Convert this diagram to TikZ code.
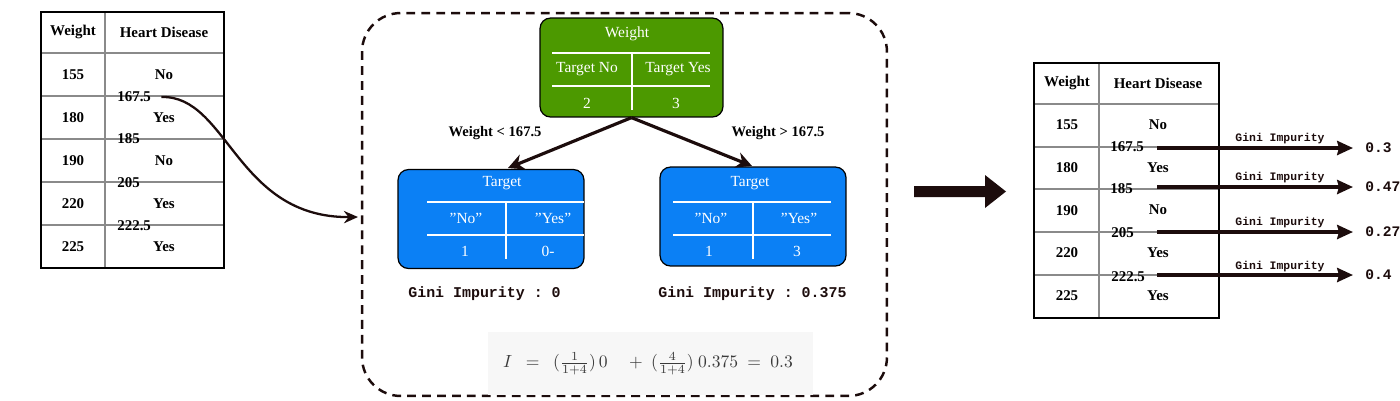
\documentclass[tikz,border=0pt]{standalone}
\usepackage{amsmath}
\usepackage{fontspec}
\setmainfont{Liberation Serif}[Ligatures=ResetAll]
\setmonofont{Liberation Mono}
\usetikzlibrary{arrows.meta}
\definecolor{ink}{HTML}{1C0C0C}
\definecolor{gnode}{HTML}{4C9900}
\definecolor{bnode}{HTML}{0B80F5}
\definecolor{gridc}{HTML}{8A8A8A}
\definecolor{fbox}{HTML}{F7F7F7}
\definecolor{ftext}{HTML}{3A3A3A}
\tikzset{
  cell/.style={font=\fontsize{8.5}{10}\selectfont\bfseries, inner sep=0pt, text=black},
  thr/.style={font=\fontsize{8.5}{10}\selectfont\bfseries, inner sep=0pt, anchor=west, text=black},
  gridline/.style={draw=gridc, line width=0.6pt},
  border/.style={draw=black, line width=0.8pt},
  greenbox/.style={draw=black, line width=0.7pt, fill=gnode, rounded corners=6pt, minimum width=3.66cm, minimum height=1.98cm, inner sep=0pt},
  bluebox/.style={draw=black, line width=0.7pt, fill=bnode, rounded corners=6pt, minimum width=3.72cm, minimum height=1.98cm, inner sep=0pt},
  wtxt/.style={font=\fontsize{8.8}{10}\selectfont, text=white, inner sep=0pt},
  wline/.style={draw=white, line width=1.2pt},
  treearrow/.style={draw=ink, line width=1.8pt, -{Stealth[length=9pt,width=9pt]}},
  curvearrow/.style={draw=ink, line width=1.3pt, -{Stealth[length=8pt,width=7pt]}},
  rarrow/.style={draw=ink, line width=1.9pt, -{Stealth[length=9pt,width=8pt,inset=1pt]}},
  brlabel/.style={font=\fontsize{8.3}{10}\selectfont\bfseries, inner sep=0pt, text=black},
  gini/.style={font=\fontsize{8.5}{11}\ttfamily\bfseries, text=ink, inner sep=0pt, anchor=west},
  ginismall/.style={font=\fontsize{6.5}{8}\ttfamily\bfseries, text=ink, inner sep=0pt},
  ginival/.style={font=\fontsize{8.3}{10}\ttfamily\bfseries, text=ink, inner sep=0pt, anchor=west},
  frame/.style={draw=ink, line width=1.4pt, dash pattern=on 5pt off 3.5pt, rounded corners=22pt, minimum width=10.5cm, minimum height=7.66cm, inner sep=0pt},
}
\begin{document}
\begin{tikzpicture}[x=0.02cm,y=-0.02cm]
\useasboundingbox (0,0) rectangle (1400,400);

% ---------------- left table ----------------
\draw[gridline] (41,53) -- (224,53);
\foreach \yy in {96,139,182,225} \draw[gridline] (41,\yy) -- (224,\yy);
\draw[gridline] (105,12) -- (105,268);
\draw[border] (41,12) rectangle (224,268);
\node[cell] (lhw) at (73,32) {Weight};
\node[cell] (lhd) at (164,32) {Heart Disease};
\foreach \w/\h [count=\i] in {155/No,180/Yes,190/No,220/Yes,225/Yes}{
  \node[cell] (lw\i) at (73,{31.5+43*\i}) {\w};
  \node[cell] (lh\i) at (164,{31.5+43*\i}) {\h};
}
\node[thr] (lt1) at (117,97) {167.5};
\node[thr] (lt2) at (117,139) {185};
\node[thr] (lt3) at (117,183) {205};
\node[thr] (lt4) at (117,226) {222.5};

% ---------------- dashed frame ----------------
\node[frame] (frm) at (624.5,204.5) {};
\coordinate (cin) at (358,217);
\draw[curvearrow] ([xshift=0.2cm]lt1.east) .. controls (228,95) and (236,218) .. (cin);

% ---------------- tree ----------------
\node[greenbox] (root) at (631.5,67.5) {};
\node[wtxt] (rw) at (627,34) {Weight};
\draw[wline] (552,53) -- (710,53);
\draw[wline] (552,86) -- (710,86);
\draw[wline] (632,53) -- (632,110);
\node[wtxt] (rtn) at (587,69) {Target No};
\node[wtxt] (rty) at (678,69) {Target Yes};
\node[wtxt] (rn2) at (587,103) {2};
\node[wtxt] (rn3) at (676,103) {3};

\node[bluebox] (lb) at (491,219) {};
\node[wtxt] (lbt) at (502,183) {Target};
\draw[wline] (427,202) -- (584,202);
\draw[wline] (427,235) -- (584,235);
\draw[wline] (506,202) -- (506,259);
\node[wtxt] (lbn) at (466,218) {"No"};
\node[wtxt] (lby) at (553,218) {"Yes"};
\node[wtxt] (lb1) at (465,251) {1};
\node[wtxt] (lb0) at (548,251) {0-};

\node[bluebox] (rb) at (753,216.5) {};
\node[wtxt] (rbt) at (750,183) {Target};
\draw[wline] (673,202) -- (831,202);
\draw[wline] (673,235) -- (831,235);
\draw[wline] (753,202) -- (753,259);
\node[wtxt] (rbn) at (711,218) {"No"};
\node[wtxt] (rby) at (799,218) {"Yes"};
\node[wtxt] (rb1) at (709,251) {1};
\node[wtxt] (rb3) at (797,251) {3};

\coordinate (la) at (508,168);
\coordinate (ra) at (752,166);
\draw[treearrow] (root.south) -- (la);
\draw[treearrow] (root.south) -- (ra);
\node[brlabel] (bl) at (495,133) {Weight < 167.5};
\node[brlabel] (br) at (778,133) {Weight > 167.5};

\node[gini] (g1) at (408,294) {Gini Impurity : 0};
\node[gini] (g2) at (658,294) {Gini Impurity : 0.375};

\node[fill=fbox, minimum width=6.5cm, minimum height=1.26cm, inner sep=0pt] (fb) at (650.5,363.5) {};
\node[text=ftext, font=\fontsize{10}{12}\selectfont, inner sep=0pt] (fm) at (648,364)
  {$I\ \ =\ \ (\tfrac{1}{1+4})\,0\quad+\ (\tfrac{4}{1+4})\ 0.375\ =\ 0.3$};

% ---------------- big arrow ----------------
\fill[ink] (914,186) -- (985,186) -- (985,175) -- (1006,191.5) -- (985,208) -- (985,197) -- (914,197) -- cycle;

% ---------------- right table ----------------
\draw[gridline] (1034,104) -- (1219,104);
\foreach \yy in {147,189,232,275} \draw[gridline] (1034,\yy) -- (1219,\yy);
\draw[gridline] (1099,63) -- (1099,318);
\draw[border] (1034,63) rectangle (1219,318);
\node[cell] (rhw) at (1067,83) {Weight};
\node[cell] (rhd) at (1158,83) {Heart Disease};
\foreach \w/\h [count=\i] in {155/No,180/Yes,190/No,220/Yes,225/Yes}{
  \node[cell] (rw\i) at (1067,{82+42.7*\i}) {\w};
  \node[cell] (rh\i) at (1158,{82+42.7*\i}) {\h};
}
\node[thr] (rt1) at (1110,147) {167.5};
\node[thr] (rt2) at (1110,189) {185};
\node[thr] (rt3) at (1111,233) {205};
\node[thr] (rt4) at (1111,277) {222.5};

\foreach \yy/\v/\ly [count=\i] in {148/0.3/139, 187/0.47/178, 232/0.27/223, 275/0.4/267}{
  \coordinate (rs\i) at (1157,\yy);
  \node[ginival] (rv\i) at (1365,\yy) {\v};
  \draw[rarrow, shorten >=0.24cm] (rs\i) -- (rv\i.west);
  \node[ginismall] (rg\i) at (1280,\ly) {Gini Impurity};
}
\end{tikzpicture}
\end{document}
